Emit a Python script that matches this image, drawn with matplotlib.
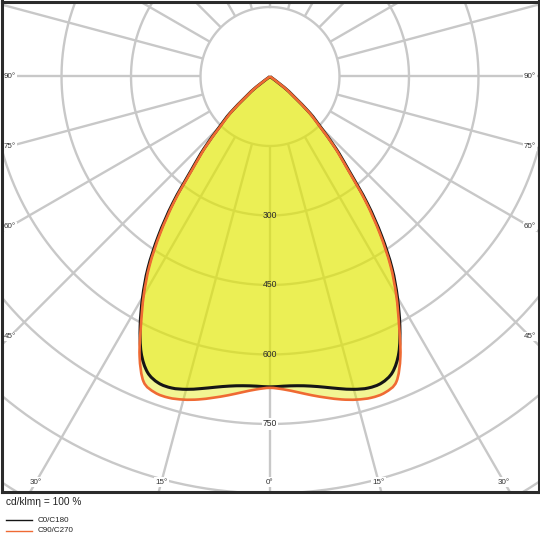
import numpy as np
import matplotlib
matplotlib.use("Agg")
import matplotlib.pyplot as plt
from matplotlib.lines import Line2D
from matplotlib.path import Path
from matplotlib.patches import PathPatch

plt.rcParams['font.family'] = ['Liberation Sans', 'DejaVu Sans']

# ---- data (half-plane, symmetric curves) ----
angles_deg = [0, 2.5, 5, 7.5, 10, 12.5, 15, 17.5, 20, 22.5, 25, 27.5, 30, 32.5,
              35, 37.5, 40, 42.5, 45, 47.5, 50, 52.5, 55, 60, 70, 80, 90]
c0_c180 = [670, 669, 670, 674, 681, 690, 699, 705, 704, 691, 658, 607, 550, 490,
           420, 345, 265, 210, 155, 117, 68, 38, 0, 0, 0, 0, 0]
c90_c270 = [672, 676, 684, 694, 704, 714, 722, 727, 726, 713, 666, 603, 545, 484,
            413, 338, 259, 205, 150, 112, 64, 35, 0, 0, 0, 0, 0]

ring_values = [150, 300, 450, 600, 750, 900, 1050, 1200, 1350]
ring_labels = ["300", "450", "600", "750"]
spoke_step = 15
side_labels = ["90°", "75°", "60°", "45°"]
bottom_labels = ["30°", "15°", "0°"]
legend_title = "cd/klmη = 100 %"
series_names = ["C0/C180", "C90/C270"]
series_colors = ["#151515", "#ef6a33"]

W = H = 540
fig = plt.figure(figsize=(5.4, 5.4), dpi=100)
x0, x1, ytop, ybot = 1.5, 538.5, 1.5, 492.0
ax = fig.add_axes([x0 / W, 1 - ybot / H, (x1 - x0) / W, (ybot - ytop) / H])
cx, cy = 270.0, 76.5
k = 1 / 0.4633  # cd per pixel
ax.set_xlim(-(cx - x0) * k, (x1 - cx) * k)
ax.set_ylim(-(ybot - cy) * k, (cy - ytop) * k)
ax.set_xticks([])
ax.set_yticks([])
for s in ax.spines.values():
    s.set_color("#2b2b2b")
    s.set_linewidth(2.2)

grid_c = "#c8c8c8"
t = np.linspace(0, 2 * np.pi, 720)
for rv in ring_values:
    ax.plot(rv * np.sin(t), rv * np.cos(t), color=grid_c, lw=1.7, zorder=1)
for a in range(0, 360, spoke_step):
    ar = np.deg2rad(a)
    ax.plot([150 * np.sin(ar), 2000 * np.sin(ar)], [-150 * np.cos(ar), -2000 * np.cos(ar)],
            color=grid_c, lw=1.7, zorder=1, solid_capstyle="butt")

peak0 = max(c0_c180[0], c90_c270[0])
for lab in ring_labels:
    v = float(lab)
    kw = dict(bbox=dict(boxstyle="square,pad=0.15", fc="white", ec="none")) if v > peak0 else {}
    ax.text(0, -v, lab, ha="center", va="center", fontsize=6.2,
            color="#2a2a2a", zorder=6, **kw)

bbox = dict(boxstyle="square,pad=0.15", fc="white", ec="none")
xs = (cx - 10) * k
for lab in side_labels:
    a = float(lab[:-1])
    y = 0.0 if a == 90 else -xs / np.tan(np.deg2rad(a))
    for sgn in (-1, 1):
        ax.text(sgn * xs, y, lab, ha="center", va="center", fontsize=5.8,
                color="#333333", zorder=1.5, bbox=bbox)
yb = -(ybot - 10 - cy) * k
for lab in bottom_labels:
    a = float(lab[:-1])
    for sgn in ((-1, 1) if a else (1,)):
        ax.text(sgn * (-yb) * np.tan(np.deg2rad(a)), yb, lab, ha="center", va="center",
                fontsize=5.8, color="#333333", zorder=1.5, bbox=bbox)


def smooth_path(x, y):
    """Catmull-Rom curve through the points, as cubic Bezier path segments."""
    pts = np.column_stack([x, y])
    keep = [0]
    for i in range(1, len(pts)):
        if np.hypot(*(pts[i] - pts[keep[-1]])) > 1e-9:
            keep.append(i)
    pts = pts[keep]
    n = len(pts)
    verts = [pts[0]]
    codes = [Path.MOVETO]
    for i in range(n - 1):
        p0 = pts[max(i - 1, 0)]
        p1 = pts[i]
        p2 = pts[i + 1]
        p3 = pts[min(i + 2, n - 1)]
        c1 = p1 + (p2 - p0) / 6.0
        c2 = p2 - (p3 - p1) / 6.0
        # keep a sharp corner at the origin (apex)
        if np.hypot(*p1) < 1e-9:
            c1 = p1
        if np.hypot(*p2) < 1e-9:
            c2 = p2
        verts += [c1, c2, p2]
        codes += [Path.CURVE4] * 3
    return Path(verts, codes)


ang = np.array(angles_deg, dtype=float)
full_ang = np.deg2rad(np.concatenate([-ang[::-1], ang[1:]]))
lws = [2.2, 1.9]
for vals, col, lw, z in zip([c0_c180, c90_c270], series_colors, lws, [3, 4]):
    v = np.array(vals, dtype=float)
    r = np.concatenate([v[::-1], v[1:]])
    x = r * np.sin(full_ang)
    y = -r * np.cos(full_ang)
    p = smooth_path(x, y)
    ax.add_patch(PathPatch(p, fc="#e2e800", alpha=0.42, lw=0, zorder=2))
    ax.add_patch(PathPatch(p, fc="none", ec=col, lw=lw, zorder=z, joinstyle="round"))

fig.text(6 / W, 1 - 502 / H, legend_title, fontsize=7.3, va="center", ha="left", color="#222222")
for i, (name, col) in enumerate(zip(series_names, series_colors)):
    yy = 1 - (520 + 11 * i) / H
    fig.add_artist(Line2D([6 / W, 32 / W], [yy, yy], color=col, lw=1.0, transform=fig.transFigure))
    fig.text(38 / W, yy, name, fontsize=5.8, va="center", ha="left", color="#222222")

fig.savefig("out.png", dpi=100)
